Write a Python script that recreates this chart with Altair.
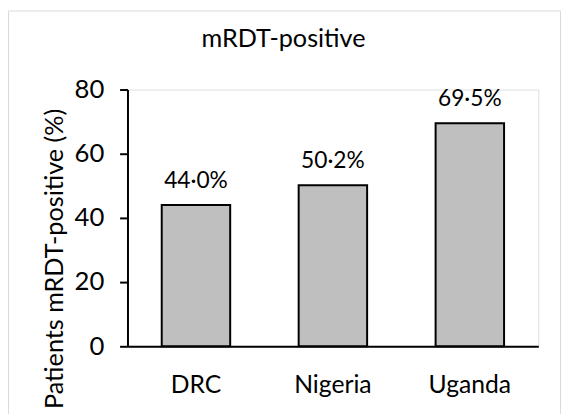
import altair as alt
import pandas as pd

countries = ["DRC", "Nigeria", "Uganda"]
values = [44.0, 50.2, 69.5]
labels = ["44·0%", "50·2%", "69·5%"]
y_ticks = [0, 20, 40, 60, 80]

df = pd.DataFrame({"country": countries, "value": values, "label": labels})

FONT = "Lato"

base = alt.Chart(df).encode(
    x=alt.X(
        "country:N",
        sort=countries,
        scale=alt.Scale(paddingInner=0.5, paddingOuter=0.25),
        axis=alt.Axis(
            title=None,
            labelAngle=0,
            ticks=False,
            tickSize=0,
            labelPadding=27,
            labelFontSize=25,
            labelFont=FONT,
            labelColor="black",
            domainColor="black",
            domainWidth=2,
            grid=False,
        ),
    ),
    y=alt.Y(
        "value:Q",
        scale=alt.Scale(domain=[0, 80], nice=False),
        axis=alt.Axis(
            values=y_ticks,
            title="Patients mRDT-positive (%)",
            titleFont=FONT,
            titleFontSize=25.5,
            titleFontWeight="normal",
            titleColor="black",
            titleAngle=270,
            titleAlign="center",
            titleBaseline="alphabetic",
            titleX=-66,
            titleY=171,
            labelFont=FONT,
            labelFontSize=26,
            labelColor="black",
            labelPadding=16,
            tickSize=8,
            tickColor="black",
            tickWidth=2,
            domainColor="black",
            domainWidth=2,
            grid=False,
        ),
    ),
)

bars = base.mark_bar(fill="#bfbfbf", stroke="black", strokeWidth=2)
text = base.mark_text(
    dy=-17, baseline="alphabetic", font=FONT, fontSize=23, color="black"
).encode(text="label:N")

frame = alt.Chart(pd.DataFrame({"f": [0]})).mark_rect(
    fill="transparent", stroke="#d9d9d9", strokeWidth=1
).encode(
    x=alt.value(-120.5), x2=alt.value(438.5), y=alt.value(-79.5), y2=alt.value(400)
)

chart = (
    alt.layer(frame, bars, text)
    .properties(
        width=416,
        height=260,
        autosize=alt.AutoSizeParams(type="none"),
        padding={"left": 121, "top": 80, "right": 24, "bottom": 66},
        title=alt.TitleParams(
            "mRDT-positive",
            font=FONT,
            fontSize=25.5,
            fontWeight="normal",
            color="black",
            anchor="middle",
            frame="group",
            baseline="alphabetic",
            offset=-62.5,
            dx=-50,
        ),
    )
    .configure_view(stroke=None)
    .configure(background="white")
)

chart.save("out.html", embed_options={"renderer": "svg", "actions": False})
